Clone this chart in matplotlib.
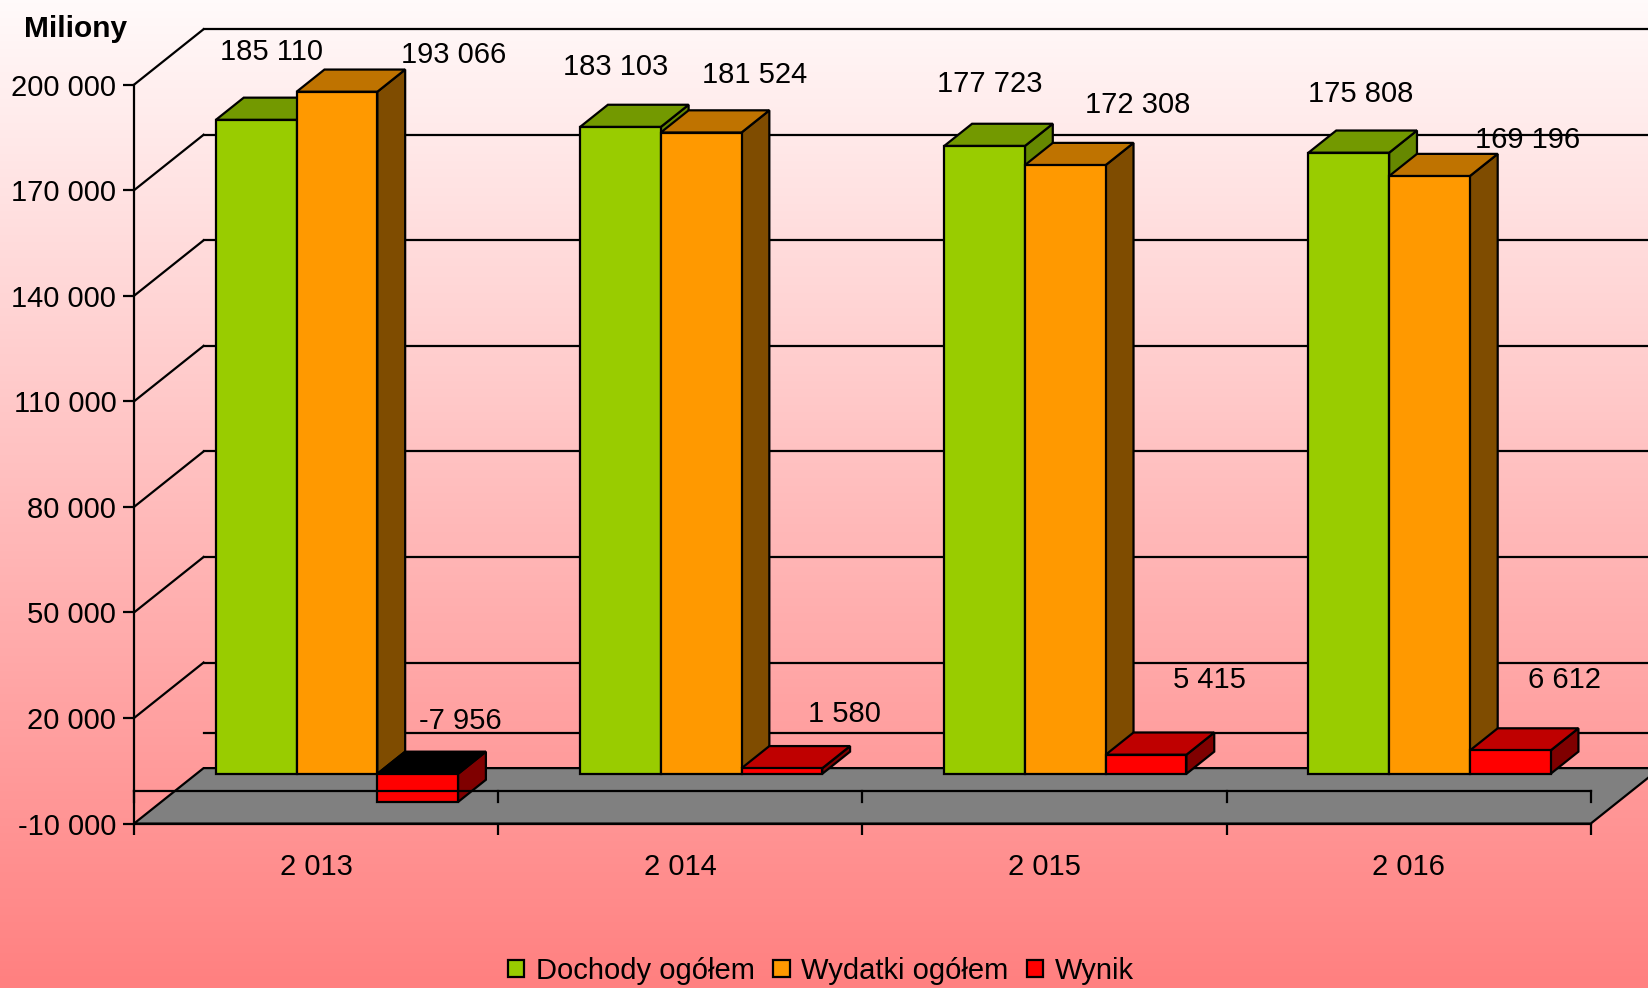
import numpy as np
import matplotlib
matplotlib.use("Agg")
import matplotlib.pyplot as plt
from matplotlib.patches import Polygon, Patch
from matplotlib.colors import LinearSegmentedColormap

plt.rcParams['font.family'] = ['Liberation Sans', 'DejaVu Sans']

# ---- data ----
years = [2013, 2014, 2015, 2016]
dochody = [185110, 183103, 177723, 175808]
wydatki = [193066, 181524, 172308, 169196]
wynik = [-7956, 1580, 5415, 6612]
series_names = ["Dochody ogółem", "Wydatki ogółem", "Wynik"]
y_ticks = [-10000, 20000, 50000, 80000, 110000, 140000, 170000, 200000]

# ---- style / layout ----
W, H = 1648, 988
FONT = 21
LW = 1.6
front_cols = ["#99CC00", "#FF9900", "#FF0000"]
top_cols = ["#739900", "#BF7300", "#BF0000"]
side_cols = ["#668800", "#7F4C00", "#7F0000"]
label_px = [(271, 52), (616, 67), (990, 84), (1361, 94.5),
            (454, 55), (755, 74.5), (1138, 105), (1528, 140),
            (460, 721), (844, 713.5), (1209, 680), (1564, 680)]

fmt = lambda v: f"{v:,}".replace(",", " ")

fig = plt.figure(figsize=(W / 100, H / 100), dpi=100)

# background gradient
bg = fig.add_axes([0, 0, 1, 1], zorder=0)
bg.axis("off")
cmap = LinearSegmentedColormap.from_list("bg", ["#FFFAFA", "#FF8080"])
bg.imshow(np.linspace(0, 1, 256).reshape(-1, 1), cmap=cmap, aspect="auto")

# main axes = front plane of the 3-D box
px_left, px_right, px_top, px_bottom = 134, 1590.7, 84.7, 823.6
ax = fig.add_axes([px_left / W, 1 - px_bottom / H,
                   (px_right - px_left) / W, (px_bottom - px_top) / H], zorder=1)
ax.patch.set_alpha(0)
ax.set_xlim(0, 4)
ax.set_ylim(-10000, 200000)

unit_x = (px_right - px_left) / 4
unit_y = (px_bottom - px_top) / 210000
DX = 69.6 / unit_x   # box depth in x units
DY = 55.5 / unit_y   # box depth in value units

# back wall grid and left wall diagonals
for v in y_ticks[1:]:
    ax.plot([0, DX], [v, v + DY], color="k", lw=LW, clip_on=False, zorder=1)
for v in y_ticks[1:] + [0]:
    ax.plot([DX, 4 + DX], [v + DY, v + DY], color="k", lw=LW, clip_on=False, zorder=1)

# floor
floor = Polygon([(0, -10000), (4, -10000), (4 + DX, -10000 + DY), (DX, -10000 + DY)],
                closed=True, fc="#808080", ec="k", lw=LW, clip_on=False, zorder=2)
ax.add_patch(floor)

# axes, ticks
for s in ("top", "right"):
    ax.spines[s].set_visible(False)
for s in ("left", "bottom"):
    ax.spines[s].set_linewidth(LW)
    ax.spines[s].set_zorder(21)
ax.set_yticks(y_ticks)
ax.set_yticklabels([fmt(v) for v in y_ticks], fontsize=FONT)
ax.tick_params(axis="y", length=7.7, width=LW, pad=5)
ax.set_xticks(range(5))
ax.set_xticklabels([""] * 5)
ax.set_xticks([i + 0.5 for i in range(4)], minor=True)
ax.set_xticklabels([fmt(y) for y in years], minor=True, fontsize=FONT)
ax.tick_params(axis="x", which="major", length=7.9, width=LW)
ax.tick_params(axis="x", which="minor", length=0, pad=21)

# bars live on their own axes: same value range, slightly different pixel scale
bar_zero_px, bar_k = 790.5, 3.533 / 1000
bpx_top = bar_zero_px - 200000 * bar_k
bpx_bottom = bar_zero_px + 10000 * bar_k
axb = fig.add_axes([px_left / W, 1 - bpx_bottom / H,
                    (px_right - px_left) / W, (bpx_bottom - bpx_top) / H], zorder=2)
axb.patch.set_alpha(0)
axb.axis("off")
axb.set_xlim(0, 4)
axb.set_ylim(-10000, 200000)
DYb = 55.5 / bar_k

gap = 61 / unit_x
bw = (1 - 2 * gap) / 3
d0, d1 = 0.3, 0.7
z = 3.0
all_values = [dochody, wydatki, wynik]
for i in range(len(years)):
    for j, vals in enumerate(all_values):
        v = vals[i]
        x0 = i + gap + j * bw + d0 * DX
        x1 = x0 + bw
        y0 = d0 * DYb
        hi = y0 + max(v, 0)
        lo = y0 + min(v, 0)
        ddx = (d1 - d0) * DX
        ddy = (d1 - d0) * DYb
        side = [(x1, lo), (x1 + ddx, lo + ddy), (x1 + ddx, hi + ddy), (x1, hi)]
        top = [(x0, hi), (x1, hi), (x1 + ddx, hi + ddy), (x0 + ddx, hi + ddy)]
        front = [(x0, lo), (x1, lo), (x1, hi), (x0, hi)]
        top_c = "#000000" if v < 0 else top_cols[j]
        for pts, c in ((side, side_cols[j]), (top, top_c), (front, front_cols[j])):
            axb.add_patch(Polygon(pts, closed=True, fc=c, ec="k", lw=LW,
                                  joinstyle="miter", clip_on=False, zorder=z))
            z += 0.01

# front zero line with its ticks
axb.plot([0, 4], [0, 0], color="k", lw=LW, clip_on=False, zorder=20)
tick_down = 11 / bar_k
for i in range(5):
    axb.plot([i, i], [0, -tick_down], color="k", lw=LW, clip_on=False, zorder=20)

# data labels
values_flat = dochody + wydatki + wynik
for (px, py), v in zip(label_px, values_flat):
    fig.text(px / W, 1 - py / H, fmt(v), fontsize=FONT, ha="center", va="center", zorder=5)

fig.text(75.6 / W, 1 - 29 / H, "Miliony", fontsize=21.5, fontweight="bold",
         ha="center", va="center", zorder=5)

# legend
handles = [Patch(fc=c, ec="k", lw=LW, label=n) for c, n in zip(front_cols, series_names)]
fig.legend(handles=handles, loc="center", bbox_to_anchor=(821 / W, 1 - 971 / H),
           ncols=3, frameon=False, fontsize=FONT, handlelength=0.55, handleheight=0.55,
           handletextpad=0.4, columnspacing=0.65, borderpad=0, borderaxespad=0)

fig.savefig("out.png", dpi=100)
